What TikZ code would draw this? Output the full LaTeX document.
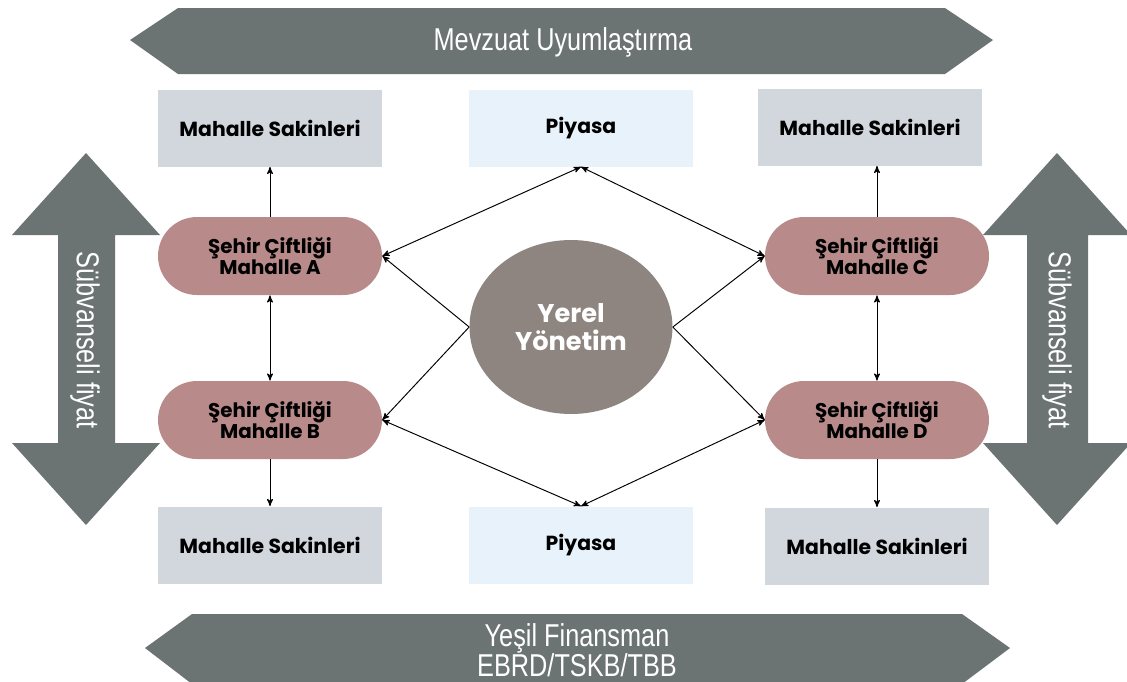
\documentclass[tikz,border=0pt]{standalone}
\usepackage{fontspec}
\usepackage{tikz}
\usetikzlibrary{shapes,arrows,positioning}
\newfontfamily\poppins{Poppins}
\newfontfamily\narrowfont{Liberation Sans}[FakeStretch=0.80]
\definecolor{bandgrey}{HTML}{6C7373}
\definecolor{farmrose}{HTML}{B88A8A}
\definecolor{govbrown}{HTML}{8E8580}
\definecolor{residgrey}{HTML}{D2D6DD}
\definecolor{marketblue}{HTML}{E8F2FA}

\begin{document}
\begin{tikzpicture}[>=stealth',x=0.02cm,y=-0.02cm,
    band/.style={fill=bandgrey,draw=none},
    bandtext/.style={text=white,font=\narrowfont\fontsize{18}{17}\selectfont,align=center},
    resid/.style={fill=residgrey,minimum width=4.48cm,minimum height=1.54cm,font=\poppins\bfseries\fontsize{11.6}{13}\selectfont},
    market/.style={resid,fill=marketblue},
    farm/.style={fill=farmrose,rounded corners=0.78cm,minimum width=4.48cm,minimum height=1.56cm,align=center,font=\poppins\bfseries\fontsize{11.3}{12}\selectfont},
    link/.style={line width=0.55pt}]
    \useasboundingbox (0,0) rectangle (1127,681);
    \fill[white] (0,0) rectangle (1127,681);

    % bands round the edge
    \fill[band] (130,40) -- (178,8) -- (945,8) -- (993,40) -- (945,74) -- (178,74) -- cycle;
    \node[bandtext] (mevzuat) at (563,42) {Mevzuat Uyumlaştırma};
    \fill[band] (145,648) -- (192,614) -- (962,614) -- (1010,648) -- (962,684) -- (192,684) -- cycle;
    \node[bandtext] (finans) at (577,650) {Yeşil Finansman\\EBRD/TSKB/TBB};
    \fill[band] (86,153) -- (160,235) -- (115,235) -- (115,443) -- (160,443) -- (86,525)
        -- (12,443) -- (58,443) -- (58,235) -- (12,235) -- cycle;
    \node[bandtext,rotate=-90] (fiyatL) at (85,340) {Sübvanseli fiyat};
    \fill[band] (1057,153) -- (1131,235) -- (1088,235) -- (1088,443) -- (1131,443) -- (1057,525)
        -- (983,443) -- (1027,443) -- (1027,235) -- (983,235) -- cycle;
    \node[bandtext,rotate=-90] (fiyatR) at (1057,340) {Sübvanseli fiyat};

    % boxes
    \node[resid] (residA) at (270,128) {Mahalle Sakinleri};
    \node[market] (marketT) at (581,128) {Piyasa};
    \node[resid] (residC) at (870,127) {Mahalle Sakinleri};
    \node[resid] (residB) at (270,545) {Mahalle Sakinleri};
    \node[market] (marketB) at (581,545) {Piyasa};
    \node[resid] (residD) at (877,546) {Mahalle Sakinleri};

    \node[farm] (farmA) at (270,256) {Şehir Çiftliği\\Mahalle A};
    \node[farm] (farmB) at (270,420) {Şehir Çiftliği\\Mahalle B};
    \node[farm] (farmC) at (877,256) {Şehir Çiftliği\\Mahalle C};
    \node[farm] (farmD) at (877,420) {Şehir Çiftliği\\Mahalle D};

    \node[ellipse,fill=govbrown,minimum width=4.06cm,minimum height=3.48cm,align=center,
        text=white,font=\poppins\bfseries\fontsize{14.6}{16}\selectfont] (gov) at (571,327) {Yerel\\Yönetim};

    % links
    \draw[link,->] (farmA.north) -- (residA.south);
    \draw[link,<->] (farmA.south) -- (farmB.north);
    \draw[link,->] (farmB.south) -- (residB.north);
    \draw[link,->] (farmC.north) -- (farmC.north |- residC.south);
    \draw[link,<->] (farmC.south) -- (farmD.north);
    \draw[link,->] (farmD.south) -- (residD.north);

    \draw[link,<->] (farmA.east) -- (marketT.south);
    \draw[link,<->] (farmC.west) -- (marketT.south);
    \draw[link,<->] (farmB.east) -- (marketB.north);
    \draw[link,<->] (farmD.west) -- (marketB.north);
    \draw[link,->] (gov.west) -- (farmA.east);
    \draw[link,->] (gov.west) -- (farmB.east);
    \draw[link,->] (gov.east) -- (farmC.west);
    \draw[link,->] (gov.east) -- (farmD.west);
\end{tikzpicture}
\end{document}
